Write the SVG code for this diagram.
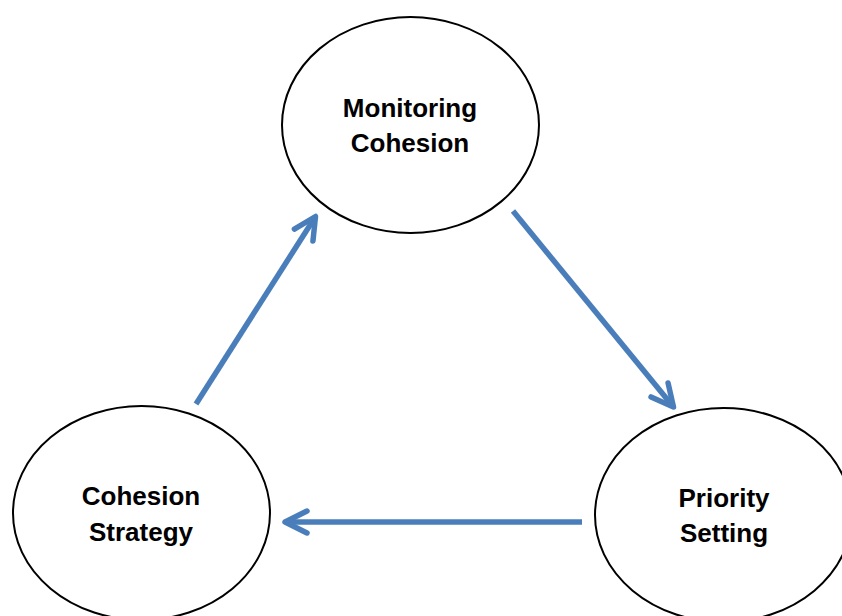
<svg xmlns="http://www.w3.org/2000/svg" width="842" height="616" viewBox="0 0 842 616">
<style>
.node ellipse{fill:#fff;stroke:#000;stroke-width:2}
.node text{font-family:"Liberation Sans",Arial,sans-serif;font-weight:bold;font-size:26px;text-anchor:middle;fill:#000}
.conn line{stroke:#4A7EBB;stroke-width:5.5;fill:none}
</style>
<defs>
<marker id="arr" markerUnits="userSpaceOnUse" viewBox="-30 -16 34 32" markerWidth="34" markerHeight="32" refX="0" refY="0" orient="auto">
<path d="M-22,-11 L0,0 L-22,11" fill="none" stroke="#4A7EBB" stroke-width="5.5" stroke-linecap="round" stroke-linejoin="round"/>
</marker>
</defs>
<rect width="842" height="616" fill="#fff"/>
<g id="monitoring" class="node">
<ellipse cx="410.5" cy="125" rx="128.5" ry="108"/>
<text x="410" y="117">Monitoring</text>
<text x="410" y="152">Cohesion</text>
</g>
<g id="strategy" class="node">
<ellipse cx="141.5" cy="513" rx="128.5" ry="107"/>
<text x="141" y="505">Cohesion</text>
<text x="141" y="541">Strategy</text>
</g>
<g id="priority" class="node">
<ellipse cx="723.5" cy="515" rx="128.5" ry="107"/>
<text x="724" y="507">Priority</text>
<text x="724" y="542">Setting</text>
</g>
<g id="connectors" class="conn">
<line x1="196" y1="404" x2="315.5" y2="216.5" marker-end="url(#arr)"/>
<line x1="513" y1="211" x2="673.5" y2="407" marker-end="url(#arr)"/>
<line x1="582" y1="522" x2="285" y2="522" marker-end="url(#arr)"/>
</g>
</svg>
